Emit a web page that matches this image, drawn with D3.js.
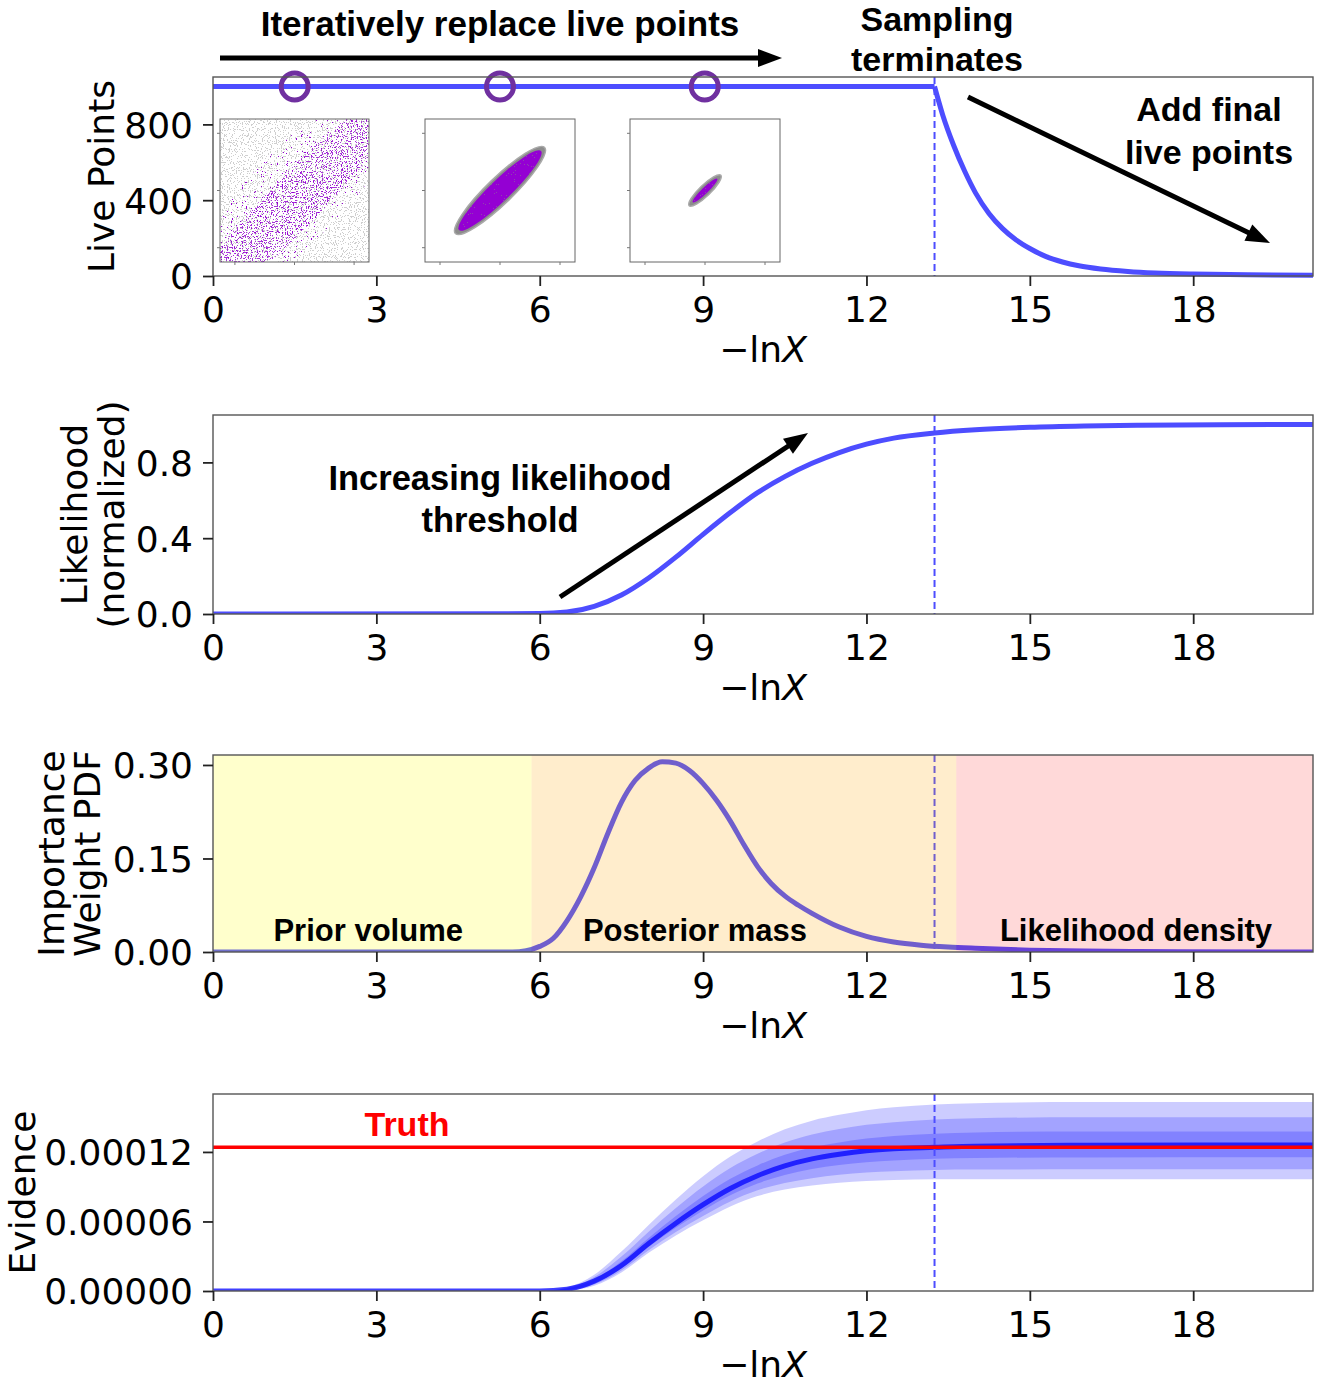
<!DOCTYPE html>
<html>
<head>
<meta charset="utf-8">
<title>Nested sampling run</title>
<script src="https://cdn.jsdelivr.net/npm/d3@7"></script>
<style>
  body { margin: 0; background: #fff; }
  svg text { font-family: "DejaVu Sans", sans-serif; }
  .ann { font-family: "Liberation Sans", Arial, sans-serif; font-weight: bold; }
</style>
</head>
<body>
<svg id="fig" width="1326" height="1385"></svg>
<script>
// ---- data ----
var ticksX = [0, 3, 6, 9, 12, 15, 18];
var xMax = 20.2;
var stopX = 13.25;               // sampling terminates

// panel 1: number of live points
var liveX = [0, 13.25, 13.4, 13.6, 13.8, 14.0, 14.25, 14.5, 14.75, 15.0, 15.3, 15.6, 15.9, 16.3, 16.8, 17.3, 18.0, 19.0, 20.2];
var liveN = [1000, 1000, 850, 690, 555, 440, 330, 250, 190, 145, 102, 74, 54, 37, 24, 16, 10, 6, 4];
var markerX = [1.5, 5.27, 9.03];

// panel 2: normalized likelihood
var likeX = [0, 6, 6.5, 7, 7.5, 8, 8.5, 9, 9.5, 10, 10.5, 11, 11.5, 12, 12.5, 13.25, 14, 15, 16, 17, 18.5, 20.2];
var likeY = [0, 0.002, 0.01, 0.04, 0.10, 0.19, 0.30, 0.42, 0.535, 0.64, 0.725, 0.795, 0.852, 0.896, 0.928, 0.955, 0.972, 0.985, 0.992, 0.996, 0.999, 1.0];

// panel 3: importance weight PDF
var pdfX = [0, 5.5, 5.75, 6, 6.25, 6.5, 6.75, 7, 7.25, 7.5, 7.75, 8, 8.25, 8.5, 8.75, 9, 9.25, 9.5, 9.75, 10, 10.25, 10.5, 10.75, 11, 11.5, 12, 12.5, 13, 13.5, 14, 15, 16, 17, 20.2];
var pdfY = [0, 0, 0.002, 0.009, 0.022, 0.05, 0.088, 0.135, 0.19, 0.24, 0.275, 0.295, 0.305, 0.303, 0.291, 0.27, 0.243, 0.21, 0.172, 0.137, 0.11, 0.09, 0.075, 0.062, 0.04, 0.025, 0.016, 0.011, 0.008, 0.006, 0.003, 0.0015, 0.0008, 0];
var regionName = ["Prior volume", "Posterior mass", "Likelihood density"];
var regionStart = [0, 5.85, 13.65];
var regionEnd = [5.85, 13.65, 20.2];
var regionColor = ["#ffff00", "#ffa500", "#ff0000"];
var regionAlpha = [0.2, 0.2, 0.15];
var regionLabelX = [2.85, 8.85, 16.95];

// panel 4: evidence (units of 1e-5)
var evX      = [0, 6, 6.5, 7, 7.5, 8, 8.5, 9, 9.5, 10, 10.5, 11, 11.5, 12, 12.5, 13.25, 14, 16, 20.2];
var evMedian = [0, 0, 0.15, 0.85, 2.2, 4.1, 5.85, 7.45, 8.85, 9.95, 10.8, 11.4, 11.8, 12.1, 12.28, 12.4, 12.5, 12.58, 12.6];
var evOutHi  = [0, 0, 0.3, 1.4, 3.4, 5.7, 7.9, 9.9, 11.6, 12.9, 13.95, 14.7, 15.2, 15.6, 15.85, 16.1, 16.2, 16.3, 16.3];
var evOutLo  = [0, 0, 0.05, 0.45, 1.6, 3.3, 4.8, 6.1, 7.3, 8.2, 8.75, 9.1, 9.35, 9.5, 9.58, 9.65, 9.65, 9.65, 9.65];
var evMidHi  = [0, 0, 0.25, 1.2, 2.97, 5.12, 7.16, 9.02, 10.61, 11.84, 12.82, 13.51, 13.98, 14.34, 14.57, 14.8, 14.9, 15.0, 15.0];
var evMidLo  = [0, 0, 0.08, 0.56, 1.77, 3.52, 5.09, 6.48, 7.73, 8.69, 9.32, 9.74, 10.04, 10.23, 10.34, 10.45, 10.48, 10.5, 10.5];
var evInHi   = [0, 0, 0.2, 1.0, 2.56, 4.58, 6.47, 8.19, 9.68, 10.84, 11.75, 12.39, 12.82, 13.15, 13.37, 13.58, 13.68, 13.77, 13.77];
var evInLo   = [0, 0, 0.11, 0.7, 1.97, 3.8, 5.45, 6.94, 8.26, 9.28, 10.02, 10.53, 10.87, 11.11, 11.27, 11.42, 11.48, 11.53, 11.54];
var truthZ = 12.4;

// ---- layout ----
var panelTop = [77, 415, 755, 1094];
var panelBottom = [276, 614, 952, 1291];
var plotLeft = 213, plotRight = 1313;
var fs = 36;

var svg = d3.select("#fig");
var defs = svg.append("defs");
var x = d3.scaleLinear().domain([0, xMax]).range([plotLeft, plotRight]);

function panel(i, yMax, yTicks, fmt, labelLines, labelX) {
  var top = panelTop[i], bottom = panelBottom[i];
  var y = d3.scaleLinear().domain([0, yMax]).range([bottom, top]);
  var g = svg.append("g");
  defs.append("clipPath").attr("id", "clip" + i).append("rect")
    .attr("x", plotLeft).attr("y", top).attr("width", plotRight - plotLeft).attr("height", bottom - top);
  var plot = g.append("g").attr("clip-path", "url(#clip" + i + ")");
  var over = g.append("g");
  g.append("rect").attr("x", plotLeft).attr("y", top).attr("width", plotRight - plotLeft).attr("height", bottom - top)
    .attr("fill", "none").attr("stroke", "#555").attr("stroke-width", 1.4);

  var xa = g.append("g").attr("transform", "translate(0," + bottom + ")")
    .call(d3.axisBottom(x).tickValues(ticksX).tickSize(10).tickPadding(10).tickFormat(d3.format("d")));
  var ya = g.append("g").attr("transform", "translate(" + plotLeft + ",0)")
    .call(d3.axisLeft(y).tickValues(yTicks).tickSize(10).tickPadding(10).tickFormat(fmt));
  [xa, ya].forEach(function (a) {
    a.select(".domain").remove();
    a.selectAll("text").attr("font-size", fs).attr("font-family", "DejaVu Sans").attr("fill", "#000");
    a.selectAll("line").attr("stroke", "#222").attr("stroke-width", 1.8);
  });
  ya.selectAll("text").attr("dy", "0.36em");

  var xl = g.append("text").attr("x", (plotLeft + plotRight) / 2).attr("y", bottom + 86)
    .attr("text-anchor", "middle").attr("font-size", fs);
  xl.append("tspan").text("\u2212ln");
  xl.append("tspan").attr("font-style", "italic").text("X");

  var cy = (top + bottom) / 2;
  labelLines.forEach(function (t, k) {
    g.append("text").attr("transform", "translate(" + labelX[k] + "," + cy + ") rotate(-90)")
      .attr("text-anchor", "middle").attr("font-size", fs).text(t);
  });
  return { y: y, plot: plot, over: over, top: top, bottom: bottom };
}

function dashed(p, color) {
  p.plot.append("line").attr("x1", x(stopX)).attr("x2", x(stopX)).attr("y1", p.top).attr("y2", p.bottom)
    .attr("stroke", color).attr("stroke-width", 2).attr("stroke-dasharray", "7,4");
}

function arrow(x1, y1, x2, y2) {
  var dx = x2 - x1, dy = y2 - y1, L = Math.sqrt(dx * dx + dy * dy);
  var ux = dx / L, uy = dy / L, hl = 24, hw = 9;
  svg.append("line").attr("x1", x1).attr("y1", y1).attr("x2", x2 - ux * hl * 0.7).attr("y2", y2 - uy * hl * 0.7)
    .attr("stroke", "#000").attr("stroke-width", 5);
  var bx = x2 - ux * hl, by = y2 - uy * hl;
  svg.append("path").attr("fill", "#000")
    .attr("d", "M" + x2 + "," + y2 + "L" + (bx - uy * hw) + "," + (by + ux * hw) + "L" + (bx + uy * hw) + "," + (by - ux * hw) + "Z");
}

function ann(lines, cx, baselines, size, color) {
  lines.forEach(function (t, k) {
    svg.append("text").attr("class", "ann").attr("x", cx).attr("y", baselines[k])
      .attr("text-anchor", "middle").attr("font-size", size).attr("fill", color || "#000").text(t);
  });
}

// speckle texture for the inset sample clouds
function speckFilter(id, color, freq, table, seed) {
  var f = defs.append("filter").attr("id", id).attr("x", 0).attr("y", 0).attr("width", 1).attr("height", 1);
  f.append("feTurbulence").attr("type", "fractalNoise").attr("baseFrequency", freq).attr("numOctaves", 1).attr("seed", seed).attr("result", "n");
  f.append("feColorMatrix").attr("in", "n").attr("type", "matrix")
    .attr("values", "0 0 0 0 0  0 0 0 0 0  0 0 0 0 0  1 0 0 0 0").attr("result", "a");
  f.append("feComponentTransfer").attr("in", "a").attr("result", "m")
    .append("feFuncA").attr("type", "discrete").attr("tableValues", table);
  f.append("feFlood").attr("flood-color", color).attr("result", "c");
  f.append("feComposite").attr("in", "c").attr("in2", "m").attr("operator", "in");
}
speckFilter("spGrey", "#8a8a8a", 0.85, "0 0 0 0 0 0 1 1 1 1", 3);
speckFilter("spPurple", "#9400d3", 0.8, "0 0 0 0 0 0 1 1 1 1", 11);
speckFilter("spPurpleB", "#9400d3", 0.8, "0 0 0 0 0 0 0 1 1 1", 17);
speckFilter("spGreyB", "#8a8a8a", 0.9, "0 0 0 0 0 0 0 1 1 1", 5);

var lineColor = "#4d4dff";

// ---- panel 1 ----
var p1 = panel(0, 1050, [0, 400, 800], d3.format("d"), ["Live Points"], [114]);
var livePts = liveX.map(function (v, i) { return [x(v), p1.y(liveN[i])]; });
var plateau = d3.line()(livePts.slice(0, 2));
var decay = d3.line().curve(d3.curveMonotoneX)(livePts.slice(1));
dashed(p1, lineColor);
p1.over.append("path").attr("d", plateau + decay).attr("fill", "none").attr("stroke", lineColor).attr("stroke-width", 5);
p1.over.selectAll("circle.mk").data(markerX).enter().append("circle").attr("class", "mk")
  .attr("cx", function (d) { return x(d); }).attr("cy", p1.y(1000)).attr("r", 13.5)
  .attr("fill", "none").attr("stroke", "#7030a0").attr("stroke-width", 5);

// insets
var insetLeft = [220, 425, 630], insetTop = 119, insetSize = [149, 150, 150], insetH = 143;
insetLeft.forEach(function (L, k) {
  var w = insetSize[k], g = p1.over.append("g");
  var cid = "inset" + k;
  defs.append("clipPath").attr("id", cid).append("rect").attr("x", L).attr("y", insetTop).attr("width", w).attr("height", insetH);
  g.append("rect").attr("x", L).attr("y", insetTop).attr("width", w).attr("height", insetH).attr("fill", "#fff");
  var cg = g.append("g").attr("clip-path", "url(#" + cid + ")");
  var cx = L + w / 2, cy = insetTop + insetH / 2;
  if (k === 0) {
    cg.append("rect").attr("x", L).attr("y", insetTop).attr("width", w).attr("height", insetH).attr("filter", "url(#spGrey)").attr("opacity", 0.4);
    defs.append("clipPath").attr("id", "band0").append("ellipse").attr("cx", cx - 4).attr("cy", cy + 4).attr("rx", 170).attr("ry", 46)
      .attr("transform", "rotate(-46," + cx + "," + cy + ")");
    defs.append("clipPath").attr("id", "band1").append("ellipse").attr("cx", cx - 8).attr("cy", cy + 8).attr("rx", 160).attr("ry", 26)
      .attr("transform", "rotate(-46," + cx + "," + cy + ")");
    cg.append("g").attr("clip-path", "url(#band0)").append("rect").attr("x", L).attr("y", insetTop).attr("width", w).attr("height", insetH).attr("filter", "url(#spPurpleB)");
    cg.append("g").attr("clip-path", "url(#band1)").append("rect").attr("x", L).attr("y", insetTop).attr("width", w).attr("height", insetH).attr("filter", "url(#spPurple)").attr("opacity", 0.8);
  } else {
    var rx = k === 1 ? 62 : 22, ry = k === 1 ? 13 : 5.5;
    var rot = "rotate(-44," + cx + "," + cy + ")";
    cg.append("ellipse").attr("cx", cx).attr("cy", cy).attr("rx", rx).attr("ry", ry).attr("transform", rot)
      .attr("fill", "#8c8c8c").attr("stroke", "#aaa").attr("stroke-width", 1.5);
    cg.append("ellipse").attr("cx", cx).attr("cy", cy).attr("rx", rx - 5).attr("ry", ry - 2.5).attr("transform", rot).attr("fill", "#9400d3");
    defs.append("clipPath").attr("id", "ell" + k).append("ellipse").attr("cx", cx).attr("cy", cy).attr("rx", rx - 5).attr("ry", ry - 2.5).attr("transform", rot);
    cg.append("g").attr("clip-path", "url(#ell" + k + ")").append("rect").attr("x", L).attr("y", insetTop).attr("width", w).attr("height", insetH).attr("filter", "url(#spGreyB)").attr("opacity", 0.5);
  }
  g.append("rect").attr("x", L).attr("y", insetTop).attr("width", w).attr("height", insetH).attr("fill", "none").attr("stroke", "#666").attr("stroke-width", 1);
  [0.1, 0.5, 0.9].forEach(function (f) {
    g.append("line").attr("x1", L + f * w).attr("x2", L + f * w).attr("y1", insetTop + insetH).attr("y2", insetTop + insetH + 3).attr("stroke", "#777");
    g.append("line").attr("x1", L).attr("x2", L - 3).attr("y1", insetTop + f * insetH).attr("y2", insetTop + f * insetH).attr("stroke", "#777");
  });
});

// ---- panel 2 ----
var p2 = panel(1, 1.05, [0, 0.4, 0.8], d3.format(".1f"), ["Likelihood", "(normalized)"], [87, 124]);
dashed(p2, lineColor);
p2.plot.append("path").datum(likeX)
  .attr("d", d3.line().x(function (d) { return x(d); }).y(function (d, i) { return p2.y(likeY[i]); }).curve(d3.curveMonotoneX))
  .attr("fill", "none").attr("stroke", lineColor).attr("stroke-width", 5);

// ---- panel 3 ----
var p3 = panel(2, 0.316, [0, 0.15, 0.30], d3.format(".2f"), ["Importance", "Weight PDF"], [64, 100]);
p3.plot.append("path").datum(pdfX)
  .attr("d", d3.line().x(function (d) { return x(d); }).y(function (d, i) { return p3.y(pdfY[i]); }).curve(d3.curveMonotoneX))
  .attr("fill", "none").attr("stroke", lineColor).attr("stroke-width", 5);
dashed(p3, lineColor);
p3.plot.selectAll("rect.reg").data(regionStart).enter().append("rect").attr("class", "reg")
  .attr("x", function (d) { return x(d); }).attr("y", p3.top)
  .attr("width", function (d, i) { return x(regionEnd[i]) - x(d); }).attr("height", p3.bottom - p3.top)
  .attr("fill", function (d, i) { return regionColor[i]; }).attr("opacity", function (d, i) { return regionAlpha[i]; });

// ---- panel 4 ----
var p4 = panel(3, 17.0, [0, 6, 12], function (d) { return d3.format(".5f")(d * 1e-5); }, ["Evidence"], [35]);
[[evOutLo, evOutHi], [evMidLo, evMidHi], [evInLo, evInHi]].forEach(function (b) {
  p4.plot.append("path").datum(evX)
    .attr("d", d3.area().x(function (d) { return x(d); })
      .y0(function (d, i) { return p4.y(b[0][i]); }).y1(function (d, i) { return p4.y(b[1][i]); }).curve(d3.curveMonotoneX))
    .attr("fill", "#0000ff").attr("opacity", 0.2);
});
p4.plot.append("path").datum(evX)
  .attr("d", d3.line().x(function (d) { return x(d); }).y(function (d, i) { return p4.y(evMedian[i]); }).curve(d3.curveMonotoneX))
  .attr("fill", "none").attr("stroke", "#0000ff").attr("stroke-opacity", 0.75).attr("stroke-width", 5);
p4.plot.append("line").attr("x1", x(0)).attr("x2", x(xMax)).attr("y1", p4.y(truthZ)).attr("y2", p4.y(truthZ))
  .attr("stroke", "#ff0000").attr("stroke-width", 3.5);
dashed(p4, lineColor);

// ---- annotations ----
ann(["Iteratively replace live points"], 500, [36], 35);
arrow(220, 58, 782, 58);
ann(["Sampling", "terminates"], 937, [31, 71], 34);
ann(["Add final", "live points"], 1209, [121, 164], 34);
arrow(968, 97, 1270, 243);
ann(["Increasing likelihood", "threshold"], 500, [490, 532], 34.5);
arrow(560, 597, 808, 433);
regionName.forEach(function (t, i) { ann([t], x(regionLabelX[i]), [941], 31); });
ann(["Truth"], 407, [1136], 34, "#ff0000");
</script>
</body>
</html>
